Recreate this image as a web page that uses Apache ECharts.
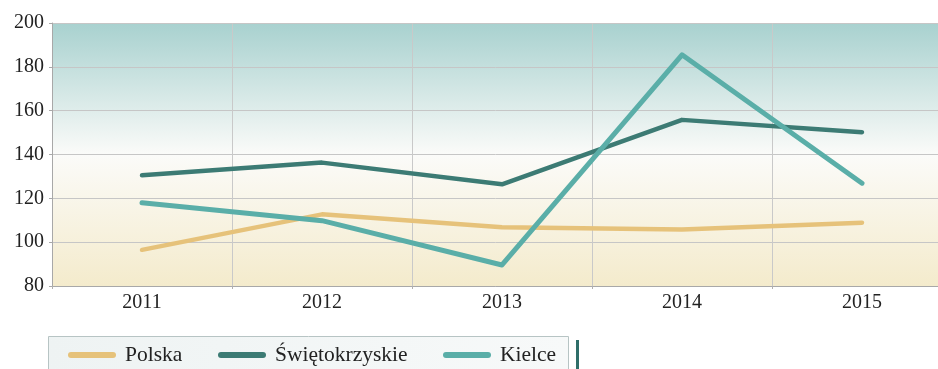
<!DOCTYPE html>
<html>
<head>
<meta charset="utf-8">
<script src="https://cdn.jsdelivr.net/npm/echarts@6/dist/echarts.min.js"></script>
<style>
  html, body { margin: 0; padding: 0; background: #ffffff; }
  #chart { width: 938px; height: 369px; }
</style>
</head>
<body>
<div id="chart"></div>
<script>
const years = ['2011', '2012', '2013', '2014', '2015'];
const polska = [96.5, 112.7, 106.8, 105.8, 108.9];
const swietokrzyskie = [130.5, 136.3, 126.4, 155.8, 150.2];
const kielce = [118.0, 109.8, 89.6, 185.5, 126.9];
const yTicks = { min: 80, max: 200, step: 20 };

const FONT = '"Liberation Serif", "DejaVu Serif", serif';
const colors = { polska: '#e6c27a', swiet: '#3c7b74', kielce: '#5aaea8' };

const chart = echarts.init(document.getElementById('chart'));

function legendAt(left, name) {
  return {
    left: left,
    top: 344,
    padding: 0,
    itemWidth: 48,
    itemHeight: 6,
    icon: 'path://M3,0 H45 A3,3 0 0 1 45,6 H3 A3,3 0 0 1 3,0 Z',
    data: [name],
    selectedMode: false,
    textStyle: { fontFamily: FONT, fontSize: 21.5, color: '#222', padding: [0, 0, 0, 4] }
  };
}

chart.setOption({
  animation: false,
  grid: {
    left: 52, top: 23, width: 900, height: 263,
    outerBoundsMode: 'none',
    show: true,
    borderWidth: 0,
    backgroundColor: new echarts.graphic.LinearGradient(0, 0, 0, 1, [
      { offset: 0, color: '#a8d1cf' },
      { offset: 0.5, color: '#fbfbf9' },
      { offset: 1, color: '#f4ebcc' }
    ])
  },
  graphic: [
    {
      type: 'rect', z: -1,
      shape: { x: 48.5, y: 336.5, width: 520, height: 40 },
      style: {
        fill: new echarts.graphic.LinearGradient(0, 0, 1, 0, [
          { offset: 0, color: '#eef3f3' },
          { offset: 1, color: '#f7f9f9' }
        ]),
        stroke: '#b7c4c4', lineWidth: 1
      }
    },
    {
      type: 'rect', z: -1,
      shape: { x: 576, y: 340, width: 3, height: 30 },
      style: { fill: '#2f6e69' }
    }
  ],
  legend: [
    legendAt(68, 'Polska'),
    legendAt(218, 'Świętokrzyskie'),
    legendAt(443, 'Kielce')
  ],
  xAxis: {
    type: 'category',
    data: years,
    boundaryGap: true,
    axisLine: { lineStyle: { color: '#a8a8a8', width: 1 } },
    axisTick: { show: true, length: 3, lineStyle: { color: '#b0b0b0' } },
    axisLabel: { fontFamily: FONT, fontSize: 20, color: '#222', margin: 7 },
    splitLine: { show: true, lineStyle: { color: '#c9c9c9', width: 1 } }
  },
  yAxis: {
    type: 'value',
    min: yTicks.min, max: yTicks.max, interval: yTicks.step,
    axisLine: { show: true, lineStyle: { color: '#a8a8a8', width: 1 } },
    axisTick: { show: true, length: 3, lineStyle: { color: '#a8a8a8' } },
    axisLabel: { fontFamily: FONT, fontSize: 20, color: '#222', margin: 8 },
    splitLine: { show: true, lineStyle: { color: '#c6c6c6', width: 1 } }
  },
  series: [
    {
      name: 'Polska', type: 'line', data: polska, showSymbol: false, symbol: 'none',
      color: colors.polska,
      lineStyle: { color: colors.polska, width: 4.5, cap: 'round', join: 'round' }
    },
    {
      name: 'Świętokrzyskie', type: 'line', data: swietokrzyskie, showSymbol: false, symbol: 'none',
      color: colors.swiet,
      lineStyle: { color: colors.swiet, width: 4.5, cap: 'round', join: 'round' }
    },
    {
      name: 'Kielce', type: 'line', data: kielce, showSymbol: false, symbol: 'none',
      color: colors.kielce,
      lineStyle: { color: colors.kielce, width: 5, cap: 'round', join: 'round' }
    }
  ]
});
</script>
</body>
</html>
